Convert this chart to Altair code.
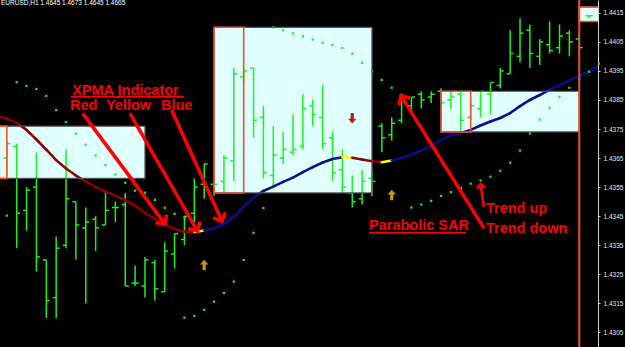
import math
import altair as alt
import pandas as pd

# ---------------- data ----------------
header = "EURUSD,H1  1.4645 1.4673 1.4645 1.4665"

bar_open = [1.4365, 1.4369, 1.4347, 1.4355, 1.4330, 1.4317, 1.4335, 1.4350, 1.4341, 1.4344,
            1.4342, 1.4348, 1.4349, 1.4322, 1.4321, 1.4329, 1.4319, 1.4332, 1.4337, 1.4346,
            1.4356, 1.4356, 1.4357, 1.4364, 1.4393, 1.4396, 1.4379, 1.4359, 1.4365, 1.4367,
            1.4369, 1.4383, 1.4379, 1.4372, 1.4361, 1.4353, 1.4351, 1.4358, 1.4376, 1.4373,
            1.4378, 1.4383, 1.4387, 1.4386, 1.4388, 1.4385, 1.4387, 1.4379, 1.4382, 1.4387,
            1.4390, 1.4394, 1.4400, 1.4409, 1.4400, 1.4404, 1.4403, 1.4408, 1.4406, 1.4414]
bar_high = [1.4371, 1.4370, 1.4355, 1.4367, 1.4330, 1.4338, 1.4368, 1.4350, 1.4348, 1.4345,
            1.4354, 1.4350, 1.4353, 1.4328, 1.4331, 1.4330, 1.4336, 1.4339, 1.4345, 1.4358,
            1.4363, 1.4357, 1.4366, 1.4396, 1.4396, 1.4396, 1.4383, 1.4376, 1.4374, 1.4380,
            1.4387, 1.4385, 1.4390, 1.4374, 1.4368, 1.4359, 1.4361, 1.4361, 1.4377, 1.4379,
            1.4387, 1.4386, 1.4388, 1.4388, 1.4389, 1.4388, 1.4388, 1.4384, 1.4388, 1.4391,
            1.4396, 1.4409, 1.4413, 1.4411, 1.4406, 1.4412, 1.4411, 1.4409, 1.4407, 1.4414]
bar_low = [1.4359, 1.4334, 1.4340, 1.4326, 1.4310, 1.4310, 1.4334, 1.4330, 1.4315, 1.4333,
           1.4342, 1.4343, 1.4321, 1.4321, 1.4317, 1.4316, 1.4319, 1.4327, 1.4335, 1.4343,
           1.4351, 1.4352, 1.4353, 1.4357, 1.4391, 1.4372, 1.4358, 1.4355, 1.4363, 1.4366,
           1.4368, 1.4376, 1.4368, 1.4357, 1.4353, 1.4348, 1.4349, 1.4352, 1.4367, 1.4371,
           1.4377, 1.4381, 1.4382, 1.4384, 1.4384, 1.4382, 1.4374, 1.4378, 1.4379, 1.4380,
           1.4389, 1.4394, 1.4398, 1.4396, 1.4397, 1.4401, 1.4401, 1.4400, 1.4402, 1.4413]
bar_close = [1.4370, 1.4346, 1.4354, 1.4331, 1.4316, 1.4334, 1.4351, 1.4342, 1.4343, 1.4341,
             1.4347, 1.4348, 1.4321, 1.4322, 1.4330, 1.4320, 1.4333, 1.4339, 1.4345, 1.4355,
             1.4363, 1.4356, 1.4365, 1.4394, 1.4395, 1.4378, 1.4360, 1.4366, 1.4368, 1.4368,
             1.4382, 1.4380, 1.4370, 1.4360, 1.4355, 1.4350, 1.4357, 1.4357, 1.4372, 1.4377,
             1.4386, 1.4386, 1.4385, 1.4387, 1.4384, 1.4386, 1.4378, 1.4383, 1.4388, 1.4391,
             1.4395, 1.4401, 1.4408, 1.4401, 1.4405, 1.4402, 1.4407, 1.4405, 1.4403, 1.4414]

# Parabolic SAR dots (bar index, value)
sar_index = [0, 1, 2, 3, 4, 5, 6, 7, 8, 9, 10, 11, 12, 13, 14, 15, 16, 17, 18,
             18, 19, 20, 21, 22, 23, 24, 25, 26,
             27, 28, 29, 30, 31, 32, 33, 34, 35, 36, 37, 38, 39, 40,
             41, 42, 43, 44, 45, 46, 47, 48, 49, 50, 51, 52, 53, 54, 55, 56, 57, 58, 59, 60]
sar_value = [1.43452, 1.43911, 1.43898, 1.43888, 1.43864, 1.43815, 1.43774, 1.43734, 1.43696,
             1.43659, 1.43626, 1.43594, 1.43565, 1.43538, 1.43531, 1.43506, 1.43479, 1.43458,
             1.43446,
             1.43101, 1.43107, 1.43128, 1.43156, 1.43186, 1.43225, 1.43299, 1.43393, 1.43478,
             1.44100, 1.44090, 1.44079, 1.44069, 1.44058, 1.44047, 1.44039, 1.44029, 1.44009,
             1.43978, 1.43948, 1.43919, 1.43892, 1.43868,
             1.43480, 1.43490, 1.43503, 1.43520, 1.43533, 1.43547, 1.43562, 1.43573, 1.43586,
             1.43606, 1.43634, 1.43676, 1.43735, 1.43782, 1.43823, 1.43861, 1.43892, 1.43921,
             1.43947, 1.43975]

# XPMA moving average, one value per bar index -1..60, and the trend of each segment
xpma_first_index = -1
xpma = [1.43794,
        1.43786, 1.43771, 1.43747, 1.43714, 1.43679, 1.43643, 1.43614, 1.43590, 1.43569, 1.43550,
        1.43535, 1.43521, 1.43504, 1.43487, 1.43461, 1.43442, 1.43421, 1.43406, 1.43397, 1.43396,
        1.43401, 1.43408, 1.43423, 1.43447, 1.43482, 1.43514, 1.43537, 1.43552, 1.43568, 1.43583,
        1.43602, 1.43619, 1.43635, 1.43647, 1.43653, 1.43651, 1.43645, 1.43639, 1.43636, 1.43642,
        1.43651, 1.43661, 1.43676, 1.43692, 1.43712, 1.43729, 1.43736, 1.43747, 1.43762, 1.43776,
        1.43788, 1.43805, 1.43829, 1.43850, 1.43867, 1.43886, 1.43901, 1.43917, 1.43932, 1.43948,
        1.43970]
xpma_trend = (["down"] * 20 + ["flat"] + ["up"] * 14 + ["flat"] + ["down"] * 3 + ["flat"]
              + ["up"] * 21)

# trend-change signal arrows
sig_index = [20, 35, 39]
sig_price = [1.43282, 1.43787, 1.43523]
sig_dir = ["up", "down", "up"]

# session boxes (bar index span, price range) with opening-range sub box
box_start = [-3, 21, 44, 58]
box_sub_end = [0, 24, 47, 60]
box_end = [14, 37, 58, 60]
box_high = [1.4376, 1.4410, 1.4388, 1.4417]
box_low = [1.4358, 1.4353, 1.4374, 1.4412]

separator_bar = [58]

tick_values = [round(1.4305 + 0.001 * k, 4) for k in range(12)]

# annotations (bar index, price)
label_text = ["XPMA Indicator", "Red", "Yellow", "Blue", "Parabolic SAR", "Trend up", "Trend down"]
label_x = [6.62, 6.40, 10.05, 15.62, 36.70, 48.55, 48.55]
label_p = [1.43868, 1.43815, 1.43815, 1.43815, 1.43402, 1.43460, 1.43393]
underline_x0 = [6.50, 36.70]
underline_x1 = [17.96, 46.53]
underline_p = [1.43861, 1.43393]
arrow_x0 = [7.69, 12.48, 16.71, 48.35]
arrow_p0 = [1.43804, 1.43804, 1.43815, 1.43409]
arrow_x1 = [16.03, 19.32, 21.80, 39.94]
arrow_p1 = [1.43423, 1.43399, 1.43433, 1.43864]
small_arrow = [48.34, 1.43482, 48.00, 1.43561]

# ---------------- chart ----------------
W, H = 598, 347
X_DOMAIN = [-0.69, 59.9]
Y_DOMAIN = [1.4300, 1.44194]
PX_I = W / (X_DOMAIN[1] - X_DOMAIN[0])
PX_P = H / (Y_DOMAIN[1] - Y_DOMAIN[0])

GREEN = "#1ef01e"
RED = "#ff0000"
ORANGE = "#f0502a"
FONT = "Liberation Sans"

xs = alt.Scale(domain=X_DOMAIN, nice=False, zero=False)
ys = alt.Scale(domain=Y_DOMAIN, nice=False, zero=False)
y_axis = alt.Axis(orient="right", values=tick_values, format=".4f",
                  labelFont=FONT, labelFontSize=6.5, labelColor="#e6e6e6",
                  domainColor="#d8d8d8", domainWidth=1, tickColor="#d8d8d8", tickSize=2,
                  labelPadding=3, grid=False, title=None, labelFlush=False,
                  labelOverlap=False)


def X(f):
    return alt.X(f, type="quantitative", scale=xs, axis=None)


def Y(f):
    return alt.Y(f, type="quantitative", scale=ys, axis=y_axis)


def head_angle(x0, p0, x1, p1):
    dx = (x1 - x0) * PX_I
    dy = -(p1 - p0) * PX_P
    return math.degrees(math.atan2(-dx, dy)) % 360


bars = pd.DataFrame({"i": list(range(len(bar_open))), "o": bar_open, "h": bar_high,
                     "l": bar_low, "c": bar_close})
sar = pd.DataFrame({"i": sar_index, "v": sar_value})
xi = list(range(xpma_first_index, xpma_first_index + len(xpma)))
xp = pd.DataFrame({"i": xi[:-1], "i1": xi[1:], "v": xpma[:-1], "v1": xpma[1:],
                   "trend": xpma_trend})
boxes = pd.DataFrame({"s": box_start, "se": box_sub_end, "e": box_end,
                      "hi": box_high, "lo": box_low})
sig = pd.DataFrame({"i": sig_index, "p": sig_price, "d": sig_dir})
labels = pd.DataFrame({"t": label_text, "x": label_x, "p": label_p})
ul = pd.DataFrame({"x0": underline_x0, "x1": underline_x1, "p": underline_p})
arr = pd.DataFrame({"x0": arrow_x0, "p0": arrow_p0, "x1": arrow_x1, "p1": arrow_p1})
arr["ang"] = [head_angle(a, b, c, d) for a, b, c, d in zip(arrow_x0, arrow_p0, arrow_x1, arrow_p1)]
sarr = pd.DataFrame({"x0": [small_arrow[0]], "p0": [small_arrow[1]],
                     "x1": [small_arrow[2]], "p1": [small_arrow[3]]})
sarr["ang"] = [head_angle(*small_arrow)]

V_HEAD = "M-1,-1L0,0L1,-1"
FAT_ARROW = "M0,-1L0.8,-0.1L0.3,-0.1L0.3,1L-0.3,1L-0.3,-0.1L-0.8,-0.1Z"

box_fill = alt.Chart(boxes).mark_rect(fill="#e0ffff", clip=True).encode(
    x=X("s"), x2="e", y=Y("hi"), y2="lo")

wick = alt.Chart(bars).mark_rule(color=GREEN, strokeWidth=1.5).encode(
    x=X("i"), y=Y("h"), y2="l")
open_tick = alt.Chart(bars).mark_rule(color=GREEN, strokeWidth=1.5, x2Offset=-3.5).encode(
    x=X("i"), x2="i", y=Y("o"))
close_tick = alt.Chart(bars).mark_rule(color=GREEN, strokeWidth=1.5, x2Offset=3.5).encode(
    x=X("i"), x2="i", y=Y("c"))

xpma_line = alt.Chart(xp).mark_rule(strokeWidth=2.6, strokeCap="round", clip=True).encode(
    x=X("i"), x2="i1", y=Y("v"), y2="v1",
    color=alt.Color("trend:N", scale=alt.Scale(domain=["down", "flat", "up"],
                                               range=["#8b0000", "#ffff00", "#0c0c8c"]),
                    legend=None))

sar_dots = alt.Chart(sar).mark_square(color=GREEN, size=5, opacity=1).encode(
    x=X("i"), y=Y("v"))

box_line = alt.Chart(boxes).mark_rect(fillOpacity=0, stroke="#555555", strokeWidth=1.2,
                                      clip=True).encode(x=X("s"), x2="e", y=Y("hi"), y2="lo")
box_sub = alt.Chart(boxes).mark_rect(fillOpacity=0, stroke=ORANGE, strokeWidth=1.6,
                                     clip=True).encode(x=X("s"), x2="se", y=Y("hi"), y2="lo")

sep = alt.Chart(pd.DataFrame({"i": separator_bar})).mark_rule(color=ORANGE, strokeWidth=2).encode(
    x=X("i"), y=alt.value(0), y2=alt.value(H))

sig_up = alt.Chart(sig).transform_filter(alt.datum.d == "up").mark_point(
    shape=FAT_ARROW, filled=True, size=110, color="#c8961e", opacity=1).encode(x=X("i"), y=Y("p"))
sig_down = alt.Chart(sig).transform_filter(alt.datum.d == "down").mark_point(
    shape=FAT_ARROW, filled=True, size=110, color="#b01c1c", angle=180, opacity=1).encode(
    x=X("i"), y=Y("p"))

arrow_lines = alt.Chart(arr).mark_rule(color=RED, strokeWidth=3.6).encode(
    x=X("x0"), x2="x1", y=Y("p0"), y2="p1")
arrow_heads = alt.Chart(arr).mark_point(shape=V_HEAD, filled=False, size=180, color=RED,
                                        strokeWidth=3.6, opacity=1).encode(
    x=X("x1"), y=Y("p1"), angle=alt.Angle("ang:Q", scale=None))
small_line = alt.Chart(sarr).mark_rule(color=RED, strokeWidth=2.6).encode(
    x=X("x0"), x2="x1", y=Y("p0"), y2="p1")
small_head = alt.Chart(sarr).mark_point(shape=V_HEAD, filled=False, size=70, color=RED,
                                        strokeWidth=2.6, opacity=1).encode(
    x=X("x1"), y=Y("p1"), angle=alt.Angle("ang:Q", scale=None))

texts = alt.Chart(labels).mark_text(align="left", baseline="alphabetic", font=FONT,
                                    fontWeight="bold", fontSize=14.5, color=RED).encode(
    x=X("x"), y=Y("p"), text="t:N")
underlines = alt.Chart(ul).mark_rule(color=RED, strokeWidth=2).encode(
    x=X("x0"), x2="x1", y=Y("p"))

head_text = alt.Chart(pd.DataFrame({"t": [header]})).mark_text(
    align="left", baseline="top", font=FONT, fontSize=6.5, color="#ffffff").encode(
    x=alt.value(1), y=alt.value(0), text="t:N")

chart = alt.layer(
    box_fill, wick, open_tick, close_tick, xpma_line, sar_dots, box_line, box_sub, sep,
    sig_up, sig_down, arrow_lines, arrow_heads, small_line, small_head, underlines, texts,
    head_text
).properties(
    width=W, height=H,
    padding={"left": 0, "top": 0, "right": 27, "bottom": 0},
    autosize=alt.AutoSizeParams(type="none"),
    background="#000000",
).configure_view(stroke=None)

chart.save("out.html", embed_options={"renderer": "svg", "actions": False})
